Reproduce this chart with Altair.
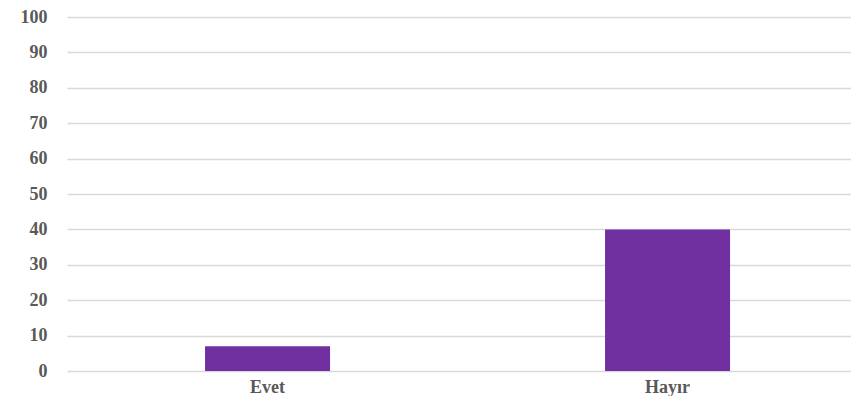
import altair as alt
import pandas as pd

categories = ["Evet", "Hayır"]
values = [7, 40]
y_ticks = [0, 10, 20, 30, 40, 50, 60, 70, 80, 90, 100]

df = pd.DataFrame({"cat": categories, "val": values})

FONT = "Liberation Serif"
LABEL_COLOR = "#595959"

chart = alt.Chart(df).mark_bar(color="#7030A0").encode(
    x=alt.X("cat:N", sort=categories, title=None,
            scale=alt.Scale(paddingInner=0.6875, paddingOuter=0.32375, align=0.533),
            axis=alt.Axis(labelAngle=0, domain=False, ticks=False, grid=False,
                          labelFont=FONT, labelFontSize=18, labelFontWeight="bold",
                          labelColor=LABEL_COLOR, labelPadding=7)),
    y=alt.Y("val:Q", title=None,
            scale=alt.Scale(domain=[0, 100], nice=False),
            axis=alt.Axis(values=y_ticks, domain=False, ticks=False, grid=True,
                          gridColor="#d9d9d9", gridWidth=1.6,
                          labelFont=FONT, labelFontSize=18, labelFontWeight="bold",
                          labelColor=LABEL_COLOR, labelPadding=20)),
).properties(
    width=784,
    height=354,
    background="white",
    autosize=alt.AutoSizeParams(type="none"),
    padding={"left": 59, "top": 9, "right": 0, "bottom": 25},
).configure_view(stroke=None, strokeWidth=0).configure_axis(domain=False, ticks=False)

chart.save("out.html", embed_options={"renderer": "svg", "actions": False})
